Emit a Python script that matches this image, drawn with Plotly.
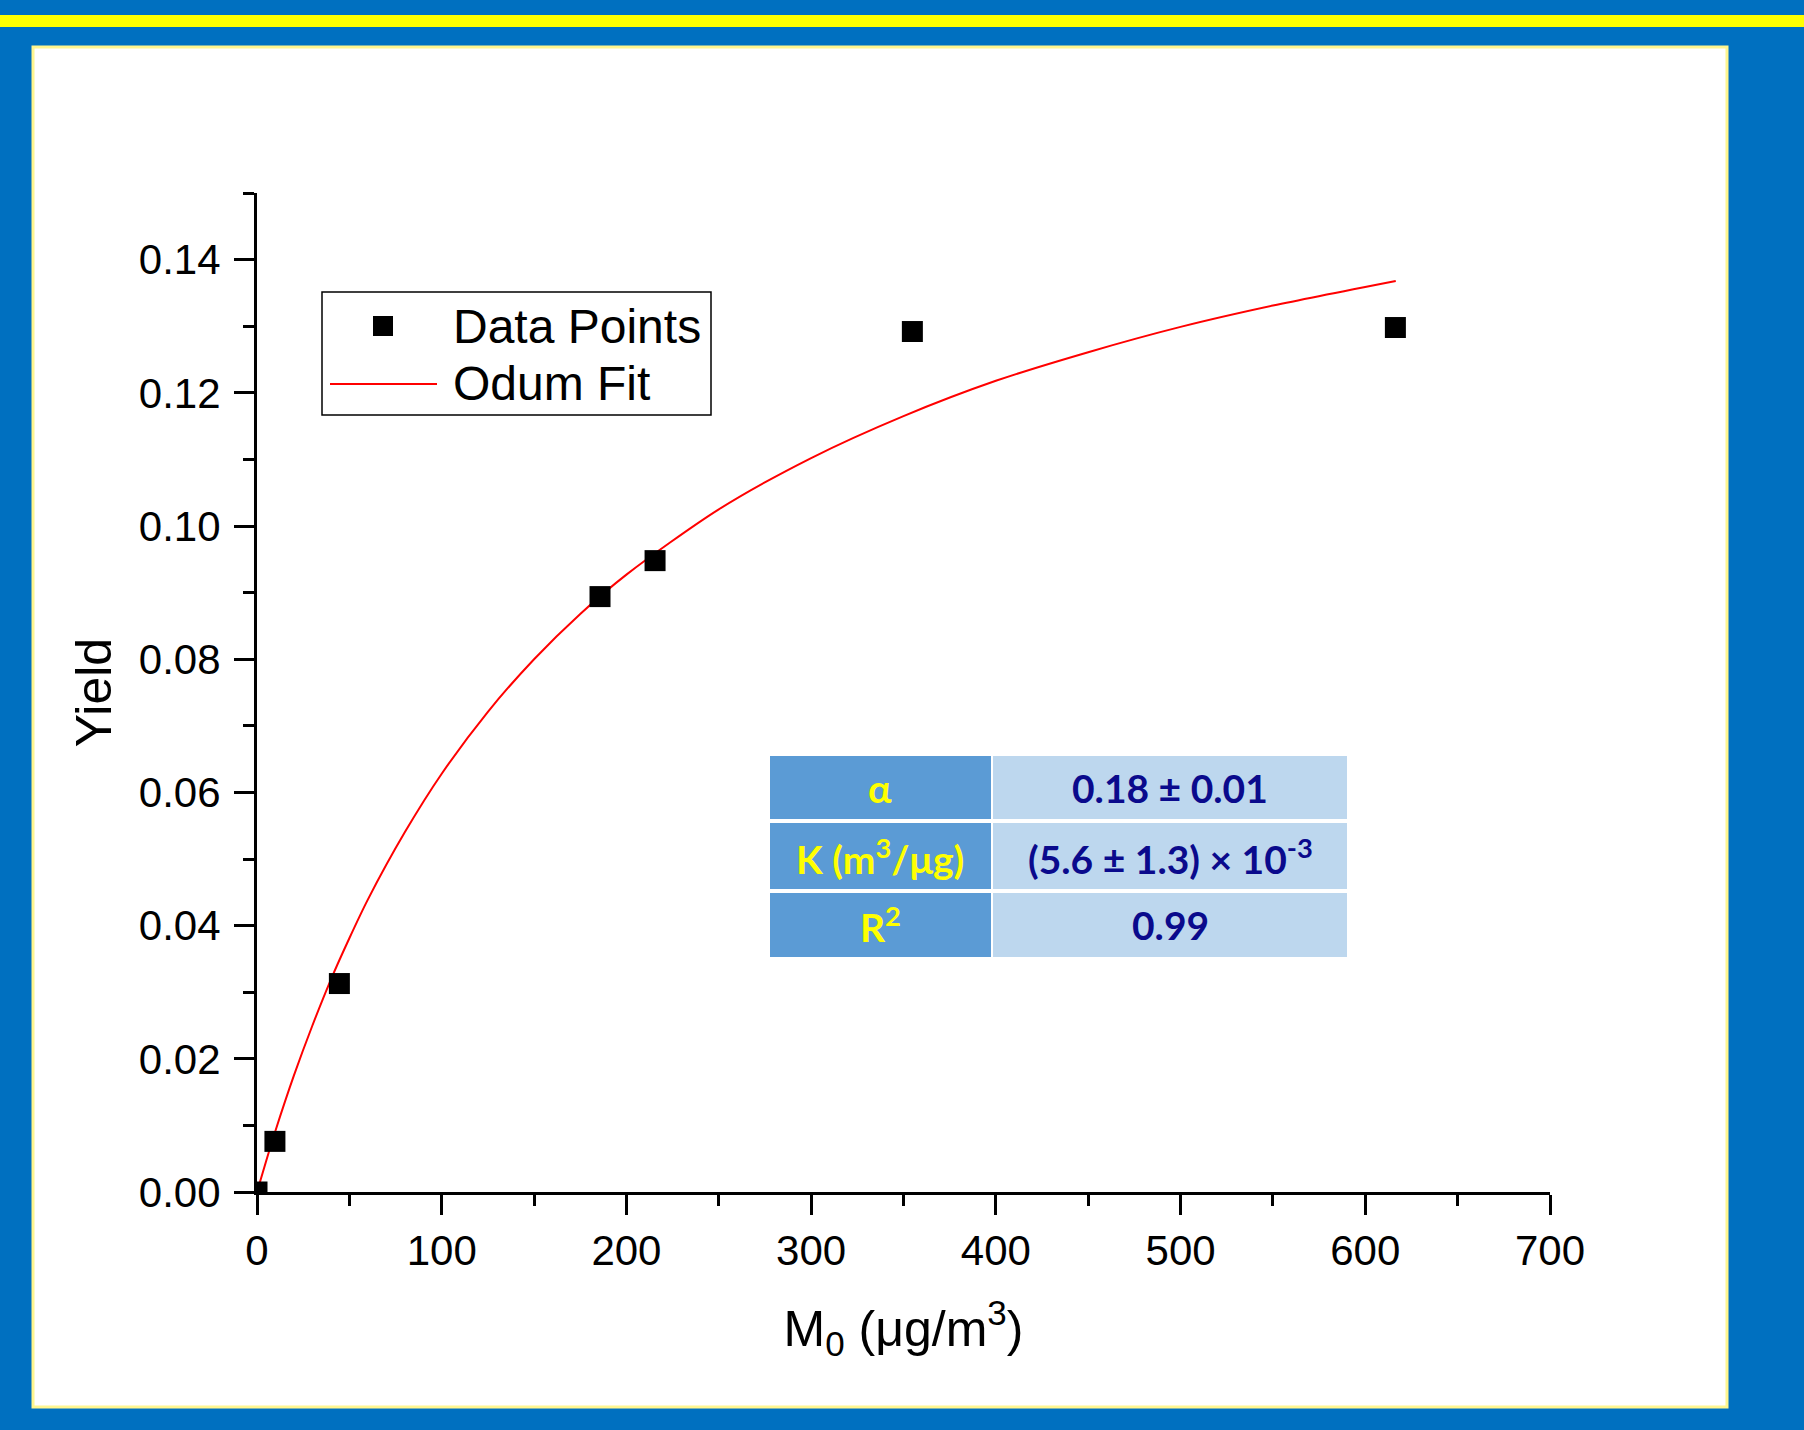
import plotly.graph_objects as go

# ---- data ----
data_x = [0, 9.7, 44.6, 185.7, 215.5, 354.8, 616.3]
data_y = [0.0, 0.0076, 0.0313, 0.0894, 0.0948, 0.1292, 0.1298]

fit_x = [0, 5, 10, 20, 30, 40, 50, 60, 80, 100, 125, 150, 175, 200,
         250, 300, 350, 400, 450, 500, 550, 616.5]
fit_y = [0, 0.0047, 0.0092, 0.0175, 0.0250, 0.0319, 0.0381, 0.0439, 0.0540, 0.0628,
         0.0721, 0.0800, 0.0868, 0.0927, 0.1025, 0.1102, 0.1165, 0.1218, 0.1261,
         0.1299, 0.1331, 0.1368]

x_ticks = [0, 100, 200, 300, 400, 500, 600, 700]
y_ticks = [0.00, 0.02, 0.04, 0.06, 0.08, 0.10, 0.12, 0.14]

legend_labels = ["Data Points", "Odum Fit"]
table_params = ["α", "K (m<sup>3</sup>/μg)", "R<sup>2</sup>"]
table_values = ["0.18 ± 0.01", "(5.6 ± 1.3) × 10<sup>-3</sup>", "0.99"]

# ---- layout geometry (pixels) ----
W, H = 1804, 1430
L, R, T, B = 257, 254, 193, 238
PW, PH = W - L - R, H - T - B


def px(xp):
    return (xp - L) / PW


def py(yp):
    return (H - B - yp) / PH


FONT = "Liberation Sans, Arial, sans-serif"
TFONT = "Lato, Open Sans, sans-serif"

fig = go.Figure()
fig.add_trace(go.Scatter(x=fit_x, y=fit_y, mode="lines", name=legend_labels[1],
                         line=dict(color="#FF0000", width=2, shape="spline", smoothing=0.8),
                         showlegend=False))
fig.add_trace(go.Scatter(x=data_x, y=data_y, mode="markers", name=legend_labels[0],
                         marker=dict(symbol="square", size=21, color="black",
                                     line=dict(width=0)),
                         showlegend=False))

shapes = []
annotations = []
# background decorations
shapes.append(dict(type="rect", xref="paper", yref="paper", layer="below",
                   x0=px(0), x1=px(W), y0=py(15), y1=py(27),
                   fillcolor="#FFFF00", line=dict(width=0)))
shapes.append(dict(type="rect", xref="paper", yref="paper", layer="below",
                   x0=px(33), x1=px(1727), y0=py(47), y1=py(1407),
                   fillcolor="white", line=dict(color="#FFF68F", width=3)))

# legend (drawn)
shapes.append(dict(type="rect", xref="paper", yref="paper",
                   x0=px(322), x1=px(711), y0=py(292), y1=py(415),
                   fillcolor="white", line=dict(color="black", width=1.5)))
shapes.append(dict(type="rect", xref="paper", yref="paper",
                   x0=px(373), x1=px(393), y0=py(316), y1=py(336),
                   fillcolor="black", line=dict(width=0)))
shapes.append(dict(type="line", xref="paper", yref="paper",
                   x0=px(330), x1=px(437), y0=py(384), y1=py(384),
                   line=dict(color="#FF0000", width=2)))
for lab, yc in zip(legend_labels, [326, 383]):
    annotations.append(dict(xref="paper", yref="paper", x=px(451), y=py(yc),
                            xanchor="left", yanchor="middle", showarrow=False, text=lab,
                            font=dict(family=FONT, size=48, color="black")))

# parameter table
rows = [(756, 819), (823, 889), (893, 957)]
for (y0, y1), p, v in zip(rows, table_params, table_values):
    shapes.append(dict(type="rect", xref="paper", yref="paper",
                       x0=px(770), x1=px(991), y0=py(y0), y1=py(y1),
                       fillcolor="#5B9BD5", line=dict(width=0)))
    shapes.append(dict(type="rect", xref="paper", yref="paper",
                       x0=px(993), x1=px(1347), y0=py(y0), y1=py(y1),
                       fillcolor="#BDD7EE", line=dict(width=0)))
    yc = (y0 + y1) / 2
    annotations.append(dict(xref="paper", yref="paper", x=px(880), y=py(yc),
                            xanchor="center", yanchor="middle", showarrow=False,
                            text="<b>" + p + "</b>",
                            font=dict(family=TFONT, size=39, color="#FFFF00")))
    annotations.append(dict(xref="paper", yref="paper", x=px(1170), y=py(yc),
                            xanchor="center", yanchor="middle", showarrow=False,
                            text="<b>" + v + "</b>",
                            font=dict(family=TFONT, size=39, color="#0A0A8C")))

axis_common = dict(showline=True, linecolor="black", linewidth=3, mirror=False,
                   ticks="outside", ticklen=20, tickwidth=3, tickcolor="black",
                   showgrid=False, zeroline=False,
                   tickfont=dict(family=FONT, size=42, color="black"))

fig.update_layout(
    width=W, height=H,
    margin=dict(l=L, r=R, t=T, b=B, autoexpand=False),
    paper_bgcolor="#0070C0", plot_bgcolor="rgba(0,0,0,0)",
    showlegend=False,
    shapes=shapes, annotations=annotations,
    xaxis=dict(range=[0, 700], tickvals=x_ticks, ticktext=[str(t) for t in x_ticks],
               minor=dict(dtick=50, tick0=0, ticks="outside", ticklen=11, tickwidth=3,
                          tickcolor="black"),
               title=dict(text="M<sub>0</sub> (μg/m<sup>3</sup>)",
                          font=dict(family=FONT, size=50, color="black"), standoff=38),
               **axis_common),
    yaxis=dict(range=[0, 0.15], tickvals=y_ticks, ticktext=["%.2f" % t for t in y_ticks],
               minor=dict(dtick=0.01, tick0=0, ticks="outside", ticklen=11, tickwidth=3,
                          tickcolor="black"),
               title=dict(text="Yield", font=dict(family=FONT, size=50, color="black"),
                          standoff=12),
               ticklabelstandoff=5,
               **axis_common),
)

fig.write_html("out.html")
